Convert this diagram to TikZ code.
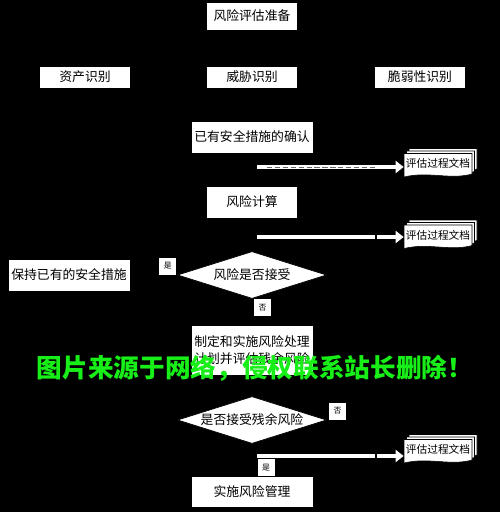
\documentclass[tikz,border=0pt]{standalone}
\usepackage{fontspec}
\newfontfamily\cjk{Noto Sans CJK SC}
\usepackage{tikz}
\usetikzlibrary{positioning}
\usetikzlibrary{arrows.meta}
\usetikzlibrary{shapes.geometric}
\usepackage{xcolor}
\definecolor{markgreen}{RGB}{24,238,24}

\begin{document}
\begin{tikzpicture}[node distance=1.3cm,
	box/.style={draw=black, fill=white, minimum width=1.82cm, minimum height=0.44cm, inner sep=1pt, font=\cjk\fontsize{7.3}{9.6}\selectfont},
	wide/.style={minimum width=2.44cm, minimum height=0.64cm},
	choice/.style={diamond, aspect=3.2, draw=black, fill=white, minimum width=2.98cm, minimum height=0.94cm, inner sep=0pt, font=\cjk\fontsize{7.3}{9.6}\selectfont},
	tag/.style={fill=white, inner sep=0pt, minimum size=0.34cm, font=\cjk\fontsize{4.5}{5}\selectfont},
	flow/.style={black, -{Stealth}},
	docflow/.style={white, line width=2pt, -{Triangle[length=1.6mm,width=2.4mm]}},
	docsheet/.style={fill=white, draw=black, line width=0.3pt},
	docs/.pic={
		\foreach \d in {0.1,0.05,0}
			\filldraw[docsheet, shift={(\d,\d)}] (-0.68,0.23) -- (0.68,0.23) -- (0.68,-0.18) .. controls (0.25,-0.3) and (-0.2,-0.12) .. (-0.68,-0.24) -- cycle;
		\node[minimum width=1.36cm, inner sep=0pt, font=\cjk\fontsize{6.1}{7}\selectfont] (-t) at (0,0.03) {评估过程文档};
	}]
	    \path[use as bounding box, fill=black] (0,0) rectangle (10,-10.24);
	    \node[box, minimum height=0.56cm] (prep) at (5.04,-0.32) {风险评估准备};
	    \node[box] (threat) [below of=prep, node distance=1.22cm] {威胁识别};
	    \node[box] (asset) [left of=threat, node distance=3.34cm] {资产识别};
	    \node[box] (vuln) [right of=threat, node distance=3.36cm] {脆弱性识别};
	    \node[box, wide] (confirm) [below of=threat, node distance=1.2cm] {已有安全措施的确认};
	    \node[box, minimum height=0.64cm] (calc) [below of=confirm] {风险计算};
	    \node[choice] (accept) [below of=calc, node distance=1.46cm] {风险是否接受};
	    \node[box, wide] (keep) [left of=accept, node distance=3.66cm] {保持已有的安全措施};
	    \node[box, wide, minimum height=1cm, align=center] (treat) [below of=accept, node distance=1.5cm] {制定和实施风险处理\\计划并评估残余风险};
	    \node[choice] (residual) [below of=treat, node distance=1.4cm] {是否接受残余风险};
	    \node[box, wide, minimum height=0.62cm] (impl) [below of=residual, node distance=1.44cm] {实施风险管理};
	    \draw[flow] (prep) -- (threat);
	    \draw[flow] (prep.south) -- ++(0,-0.3) -| (asset);
	    \draw[flow] (prep.south) -- ++(0,-0.3) -| (vuln);
	    \draw[flow] (asset) |- (confirm);
	    \draw[flow] (threat) -- (confirm);
	    \draw[flow] (vuln) |- (confirm);
	    \draw[flow] (confirm) -- (calc);
	    \draw[flow] (calc) -- (accept);
	    \draw[flow] (accept) -- node[tag, pos=0.2, above] {是} (keep);
	    \draw[flow] (accept) -- node[tag, pos=0.33, right, xshift=1pt] {否} (treat);
	    \draw[flow] (treat) -- (residual);
	    \draw[flow] (residual) -- node[tag, pos=1, above right, xshift=3pt] {是} (impl);
	    \draw[flow] (residual.east) -- node[tag, pos=0.27, above] {否} ++(0.8,0) |- (treat.east);
	    \draw[flow] (keep) |- (impl);
	    \pic (doc1) at (8.76,-3.30) {docs};
	    \pic (doc2) at (8.76,-4.73) {docs};
	    \pic (doc3) at (8.76,-9.02) {docs};
	    \coordinate (a1) at (5.14,-3.34);
	    \coordinate (a2) at (5.14,-4.74);
	    \coordinate (a3) at (5.14,-9.12);
	    \draw[docflow] (a1) -- (a1 -| doc1-t.west);
	    \draw[black!60, line width=0.35pt, dash pattern=on 3pt off 1.5pt] (a1) ++(0.2,0) -- ++(2.2,0);
	    \draw[docflow, dash pattern=on 2.36cm off 0.04cm on 3cm] (a2) -- (a2 -| doc2-t.west);
	    \draw[docflow, dash pattern=on 2.36cm off 0.04cm on 3cm] (a3) -- (a3 -| doc3-t.west);
	    \node[text=markgreen, font=\cjk\bfseries\fontsize{14.6}{16}\selectfont] (mark) at (5.1,-7.36) {图片来源于网络，侵权联系站长删除！};
	  \end{tikzpicture}
\end{document}
